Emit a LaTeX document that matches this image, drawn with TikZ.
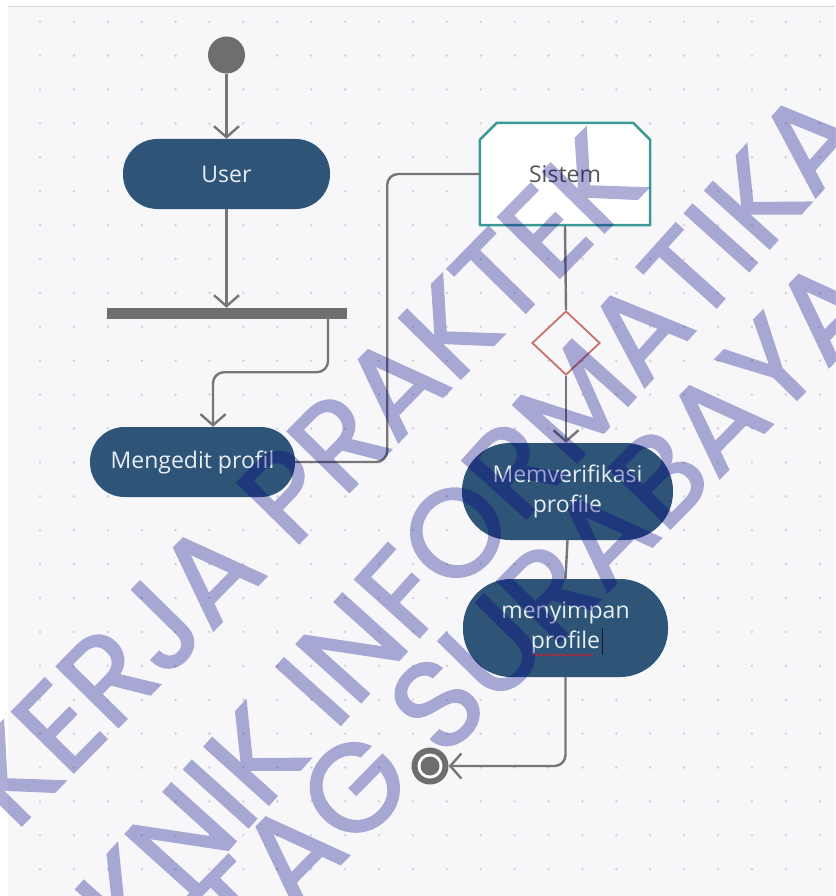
\documentclass[tikz,border=0pt]{standalone}
\usepackage{fontspec}
\setmainfont{Open Sans}
\newfontfamily\wmfont{Poppins}[FakeBold=1.8]
\usetikzlibrary{arrows.meta,shapes.geometric,calc,decorations.pathmorphing}

\definecolor{canvas}{RGB}{247,247,250}
\definecolor{frameLine}{RGB}{214,214,220}
\definecolor{gridDot}{RGB}{210,211,218}
\definecolor{stepFill}{RGB}{46,84,120}
\definecolor{stepText}{RGB}{232,238,243}
\definecolor{flowGray}{RGB}{118,118,118}
\definecolor{barGray}{RGB}{110,110,110}
\definecolor{sysTeal}{RGB}{58,155,150}
\definecolor{sysText}{RGB}{85,85,85}
\definecolor{decRed}{RGB}{200,115,105}
\definecolor{wmInk}{RGB}{0,0,130}
\definecolor{spellRed}{RGB}{175,40,60}
\definecolor{caret}{RGB}{20,20,40}

\begin{document}
\begin{tikzpicture}[x=1pt,y=-1pt,
  action/.style={rectangle, fill=stepFill, text=stepText,
    font=\fontsize{23}{30}\selectfont, align=center, inner sep=0pt},
  flow/.style={draw=flowGray, line width=2.4pt,
    -{Straight Barb[length=11pt,width=25pt]}},
  link/.style={draw=flowGray, line width=2.4pt},
  wm/.style={text=wmInk, inner sep=0pt,
    font=\wmfont\fontsize{124}{124}\selectfont}]

% canvas, frame and dot grid
\useasboundingbox (0,0) rectangle (835,896);
\fill[white] (0,0) rectangle (835,896);
\fill[canvas] (8,7) rectangle (835,896);
\draw[frameLine, line width=1.5pt] (8,6.5) -- (835,6.5);
\foreach \i in {0,...,23}
  \foreach \j in {0,...,25}
    \fill[gridDot] (40+33.9*\i, 21.7+33.9*\j) circle (1.4pt);

% nodes
\node[circle, fill=barGray, minimum size=37pt, inner sep=0pt] (start) at (226.5,55) {};
\node[action, minimum width=207pt, minimum height=70pt, rounded corners=34.5pt] (user) at (226.5,174) {User};
\node[fill=barGray, minimum width=240pt, minimum height=11pt, inner sep=0pt] (fork) at (227,313.5) {};
\node[action, minimum width=205pt, minimum height=70pt, rounded corners=34.5pt] (edit) at (192.5,462) {Mengedit profil};

\node[minimum width=170pt, minimum height=102pt, inner sep=0pt] (sys) at (565,174) {};
\filldraw[fill=white, draw=sysTeal, line width=2.5pt, line join=round]
  (sys.south west) -- ([yshift=-17pt]sys.north west) -- ([xshift=17pt]sys.north west)
  -- ([xshift=-17pt]sys.north east) -- ([yshift=-17pt]sys.north east)
  -- (sys.south east) -- cycle;
\node[text=sysText, font=\fontsize{23}{30}\selectfont, inner sep=0pt] (systext) at (sys.center) {Sistem};

\node[diamond, draw=decRed, line width=1.8pt, minimum width=68pt, minimum height=64pt, inner sep=0pt] (gate) at (566,343) {};
\node[action, minimum width=211pt, minimum height=97pt, rounded corners=48pt] (verify) at (567.5,491.5) {Memverifikasi\\profile};
\node[action, minimum width=205pt, minimum height=98pt, rounded corners=48pt] (store) at (565.5,628) {menyimpan\\profile};

\node[circle, fill=barGray, minimum size=37pt, inner sep=0pt] (finish) at (430,766) {};
\fill[white] (finish.center) circle (12.5pt);
\fill[barGray] (finish.center) circle (9.5pt);

% spell-check mark and text caret in the last action
\draw[spellRed, line width=1pt, decorate, decoration={snake, amplitude=0.7pt, segment length=3pt}]
  ($(store.center)+(-33.5,27)$) -- ($(store.center)+(27.5,27)$);
\draw[caret, line width=1.5pt] ($(store.center)+(37,0)$) -- ($(store.center)+(37,27)$);

% connectors
\draw[flow] (start.south) -- (user.north);
\draw[flow] (user.south) -- (user.south |- fork.north);
\draw[flow, rounded corners=11pt] ([xshift=101pt]fork.south) -- ++(0,53) -| ([xshift=20.5pt]edit.north);
\draw[link, rounded corners=11pt] (edit.east) -- ++(92,0) |- (sys.west);
\draw[link] (sys.south) -- (gate.north);
\draw[flow] (gate.south) -- (gate.south |- verify.north);
\draw[link] (verify.south) -- (store.north);
\draw[flow, rounded corners=11pt] (store.south) |- (finish.east);

% watermark, composited as one translucent layer
\begin{scope}[transparency group, opacity=0.32]
  \node[wm, rotate=45.5, anchor=base east] (wm1) at (650,186) {KERJA PRAKTEK};
  \node[wm, rotate=48, anchor=base east] (wm2) at (869,138) {TEKNIK INFORMATIKA};
  \node[wm, rotate=45.5, anchor=base east] (wm3) at (885,310) {UNTAG SURABAYA};
\end{scope}
\end{tikzpicture}
\end{document}
